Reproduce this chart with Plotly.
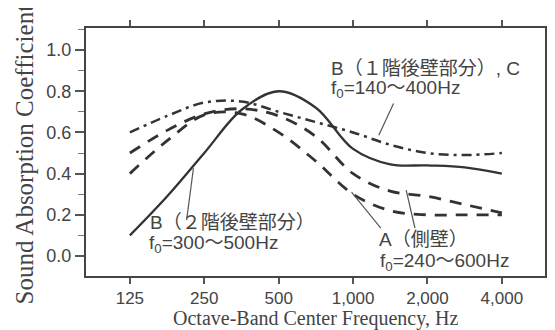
import math
import plotly.graph_objects as go

# ---- data ----
freqs = [125, 177, 250, 354, 500, 707, 1000, 1414, 2000, 2828, 4000]
b2_solid = [0.10, 0.29, 0.50, 0.71, 0.80, 0.72, 0.52, 0.445, 0.44, 0.43, 0.40]
b1c_dashdot = [0.60, 0.68, 0.745, 0.75, 0.70, 0.65, 0.60, 0.54, 0.50, 0.49, 0.50]
a_dash_1 = [0.40, 0.56, 0.685, 0.69, 0.60, 0.46, 0.30, 0.22, 0.20, 0.20, 0.20]
a_dash_2 = [0.50, 0.61, 0.69, 0.715, 0.68, 0.58, 0.40, 0.315, 0.29, 0.25, 0.21]

tick_freqs = [125, 250, 500, 1000, 2000, 4000]
tick_labels = ["125", "250", "500", "1,000", "2,000", "4,000"]
y_ticks = [0.0, 0.2, 0.4, 0.6, 0.8, 1.0]

# pointer (leader) lines: (freq, value) pairs
leaders = [
    ([212, 226], [0.174, 0.426]),
    ([1295, 986], [0.136, 0.31]),
    ([1780, 1640], [0.136, 0.32]),
    ([1458, 1271], [0.741, 0.586]),
]

LINE = "#333333"
TEXT = "#444444"
SANS = "Liberation Sans, Arial, Noto Sans CJK JP, sans-serif"
SERIF = "Liberation Serif, Times New Roman, serif"

fig = go.Figure()

def add_curve(y, dash, width, name):
    fig.add_trace(go.Scatter(
        x=freqs, y=y, mode="lines", name=name,
        line=dict(color=LINE, width=width, dash=dash, shape="spline", smoothing=1.0),
        hoverinfo="skip", showlegend=False))

add_curve(b1c_dashdot, "10px,5px,3px,5px", 2.5, "B（１階後壁部分）, C")
add_curve(a_dash_1, "12px,9px", 2.8, "A（側壁）")
add_curve(a_dash_2, "12px,9px", 2.8, "A（側壁）")
add_curve(b2_solid, "solid", 2.3, "B（２階後壁部分）")

for lx, ly in leaders:
    fig.add_trace(go.Scatter(x=lx, y=ly, mode="lines",
                             line=dict(color="#555555", width=1.2),
                             hoverinfo="skip", showlegend=False))

def note(freq, val, text):
    fig.add_annotation(x=math.log10(freq), y=val, xref="x", yref="y",
                       text=text, showarrow=False, xanchor="left", yanchor="middle",
                       font=dict(family=SANS, size=19, color=TEXT))

note(800, 0.91, "B（１階後壁部分）, C")
note(800, 0.81, "f<sub>0</sub>=140～400Hz")
note(148, 0.165, "B（２階後壁部分）")
note(146, 0.06, "f<sub>0</sub>=300～500Hz")
note(1255, 0.082, "A（側壁）")
note(1262, -0.028, "f<sub>0</sub>=240～600Hz")

# axis titles
fig.add_annotation(x=0.5, y=-0.17, xref="paper", yref="paper", xanchor="center", yanchor="middle",
                   text="Octave-Band Center Frequency, Hz", showarrow=False,
                   font=dict(family=SERIF, size=20, color=TEXT))
fig.add_annotation(x=-0.133, y=0.49, xref="paper", yref="paper", xanchor="center", yanchor="middle",
                   text="Sound Absorption Coefficient", showarrow=False, textangle=-90,
                   font=dict(family=SERIF, size=25, color=TEXT))

x_lo = math.log10(125) - 0.59 * math.log10(2)
x_hi = math.log10(4000) + 0.58 * math.log10(2)

fig.update_layout(
    width=555, height=330,
    margin=dict(l=78, r=7, t=20, b=62),
    paper_bgcolor="white", plot_bgcolor="white",
    xaxis=dict(type="log", range=[x_lo, x_hi], tickvals=tick_freqs, ticktext=tick_labels,
               showgrid=False, zeroline=False, showline=True, linecolor="#444444", linewidth=2,
               mirror="allticks", ticks="outside", ticklen=6, tickwidth=1.5, tickcolor="#555555",
               tickfont=dict(family=SANS, size=17, color=TEXT)),
    yaxis=dict(range=[-0.097, 1.107], tickvals=y_ticks, tickformat=".1f",
               showgrid=False, zeroline=False, showline=True, linecolor="#444444", linewidth=2,
               mirror="allticks", ticks="outside", ticklen=9, tickwidth=1.5, tickcolor="#555555",
               minor=dict(dtick=0.1, tick0=0, ticks="outside", ticklen=6, tickwidth=1, tickcolor="#777777"),
               tickfont=dict(family=SANS, size=18, color=TEXT)),
)

fig.write_html("out.html")
